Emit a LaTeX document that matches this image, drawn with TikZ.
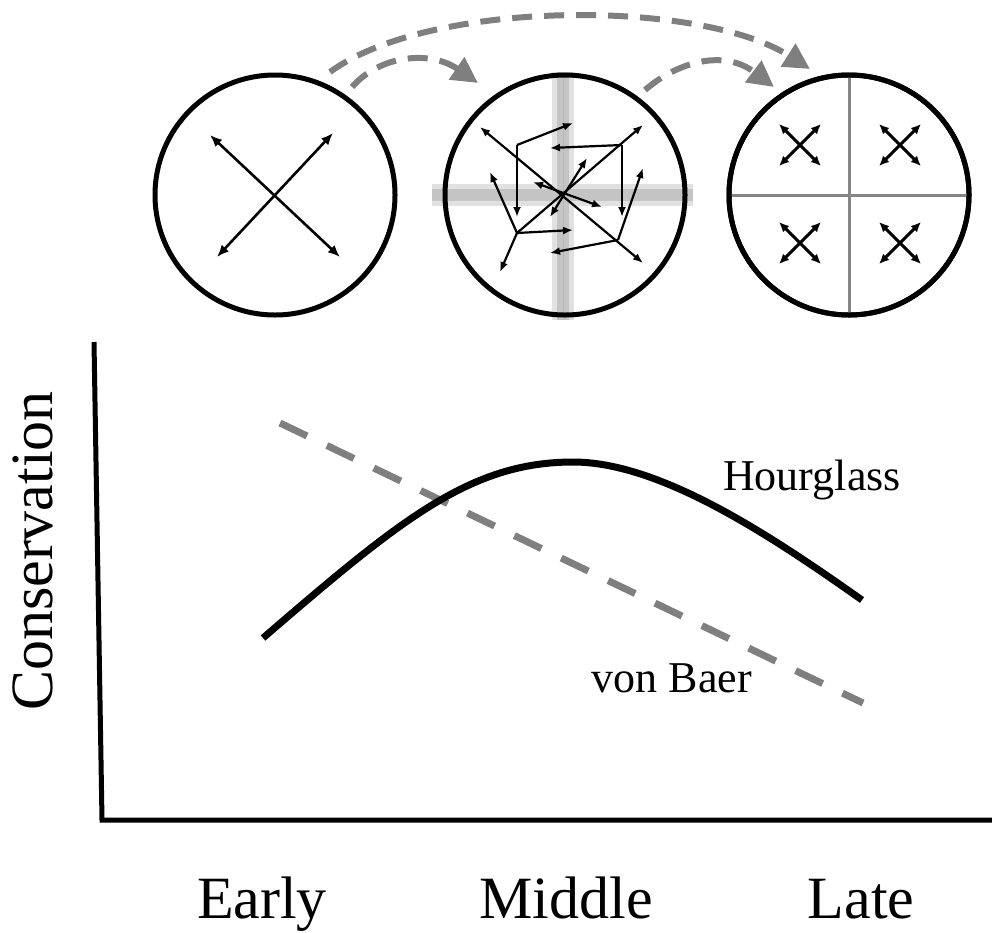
\documentclass[tikz,border=0pt]{standalone}
\usepackage{fontspec}
\setmainfont{Liberation Serif}
\usetikzlibrary{arrows.meta}
\definecolor{arcGray}{HTML}{7F7F7F}
\definecolor{bandGray}{HTML}{C4C4C4}
\definecolor{splitGray}{HTML}{858585}

\begin{document}
\begin{tikzpicture}[x=1pt, y=-1pt,
  disc/.style={circle, draw=black, line width=5pt, minimum size=240pt, inner sep=0pt},
  spread/.style={line width=2.6pt, {Latex[length=12pt,width=10pt]}-{Latex[length=12pt,width=10pt]}},
  twig/.style={line width=2.2pt, -{Latex[length=10pt,width=8pt]}},
  twin/.style={line width=2.2pt, {Latex[length=10pt,width=8pt]}-{Latex[length=10pt,width=8pt]}},
  quad/.style={line width=3pt, {Latex[length=10pt,width=9pt]}-{Latex[length=10pt,width=9pt]}},
  split/.style={draw=splitGray, line width=3pt},
  halo/.style={draw=bandGray!50, line width=22pt},
  band/.style={draw=bandGray, line width=12pt},
  hop/.style={draw=arcGray, line width=6pt, dash pattern=on 20pt off 12pt,
              -{Triangle[length=26pt,width=26pt]}},
  axis/.style={draw=black, line width=5pt},
  baer/.style={draw=arcGray, line width=7pt, dash pattern=on 30pt off 22pt},
  hglass/.style={draw=black, line width=7pt},
  axlabel/.style={font=\fontsize{60}{72}\selectfont, inner sep=0pt},
  curvelabel/.style={font=\fontsize{44}{52}\selectfont, inner sep=0pt}
]
  \useasboundingbox (0,0) rectangle (992,932);

  % blurred cross behind the middle disc
  \draw[halo] (563,72) -- (563,320);
  \draw[halo] (432,195) -- (693,195);
  \draw[band] (563,72) -- (563,320);
  \draw[band] (432,195) -- (693,195);
  \draw[draw=bandGray!120, line width=1pt] (563,72) -- (563,320);

  % three stages
  \node[disc] (early disc) at (275,195) {};
  \node[disc] (middle disc) at (565,195) {};
  \node[disc] (late disc) at (849,195) {};

  % early: one cross
  \draw[spread] (210,135) -- (340,257);
  \draw[spread] (333,133) -- (217,257);

  % middle: tangled arrows
  \draw[twin] (480,127) -- (643,263);
  \draw[twin] (587,158) -- (550,217);
  \draw[twin] (533,182) -- (602,207);
  \foreach \x/\y/\u/\v in {517/145/573/123, 517/145/517/217,
                           622/145/550/148, 622/145/622/217,
                           517/233/490/172, 517/233/573/230, 517/233/500/272, 517/233/643/125,
                           618/240/550/253, 618/240/643/168}
    \draw[twig] (\x,\y) -- (\u,\v);

  % late: four quarters
  \draw[split] (late disc.north) -- (late disc.south);
  \draw[split] (late disc.west) -- (late disc.east);
  \node[disc] at (849,195) {};
  \foreach \cx/\cy in {800/145, 900/145, 800/243, 900/243} {
    \draw[quad] (\cx-21,\cy-21) -- (\cx+21,\cy+21);
    \draw[quad] (\cx+21,\cy-21) -- (\cx-21,\cy+21);
  }

  % transitions
  \coordinate (a1) at (352,87);
  \coordinate (b1) at (478,83);
  \coordinate (a2) at (645,90);
  \coordinate (b2) at (774,87);
  \coordinate (a3) at (330,72);
  \coordinate (b3) at (810,69);
  \draw[hop] (a1) .. controls (380,55) and (430,50) .. (b1);
  \draw[hop] (a2) .. controls (680,60) and (725,50) .. (b2);
  \draw[hop] (a3) .. controls (430,-1) and (700,-1) .. (b3);

  % graph
  \coordinate (top) at (94,342);
  \coordinate (origin) at (102,820);
  \coordinate (right) at (995,820);
  \draw[axis] (top) -- (origin) -- (right);

  \coordinate (vb start) at (280,423);
  \coordinate (vb end) at (863,703);
  \draw[baer] (vb start) -- (vb end);

  \coordinate (hg start) at (263,638);
  \coordinate (hg peak) at (573,462);
  \coordinate (hg end) at (862,600);
  \draw[hglass] (hg start) .. controls (400,520) and (470,462) .. (hg peak)
                .. controls (660,462) and (770,535) .. (hg end);

  \node[curvelabel, anchor=base] (hourglass) at (812,490) {Hourglass};
  \node[curvelabel, anchor=base] (vonbaer) at (672,692) {von Baer};

  \node[axlabel, rotate=90] (cons) at (33,551) {Conservation};
  \node[axlabel, anchor=base] (early) at (262,918) {Early};
  \node[axlabel, anchor=base] (middle) at (566,918) {Middle};
  \node[axlabel, anchor=base] (late) at (861,918) {Late};
\end{tikzpicture}
\end{document}
